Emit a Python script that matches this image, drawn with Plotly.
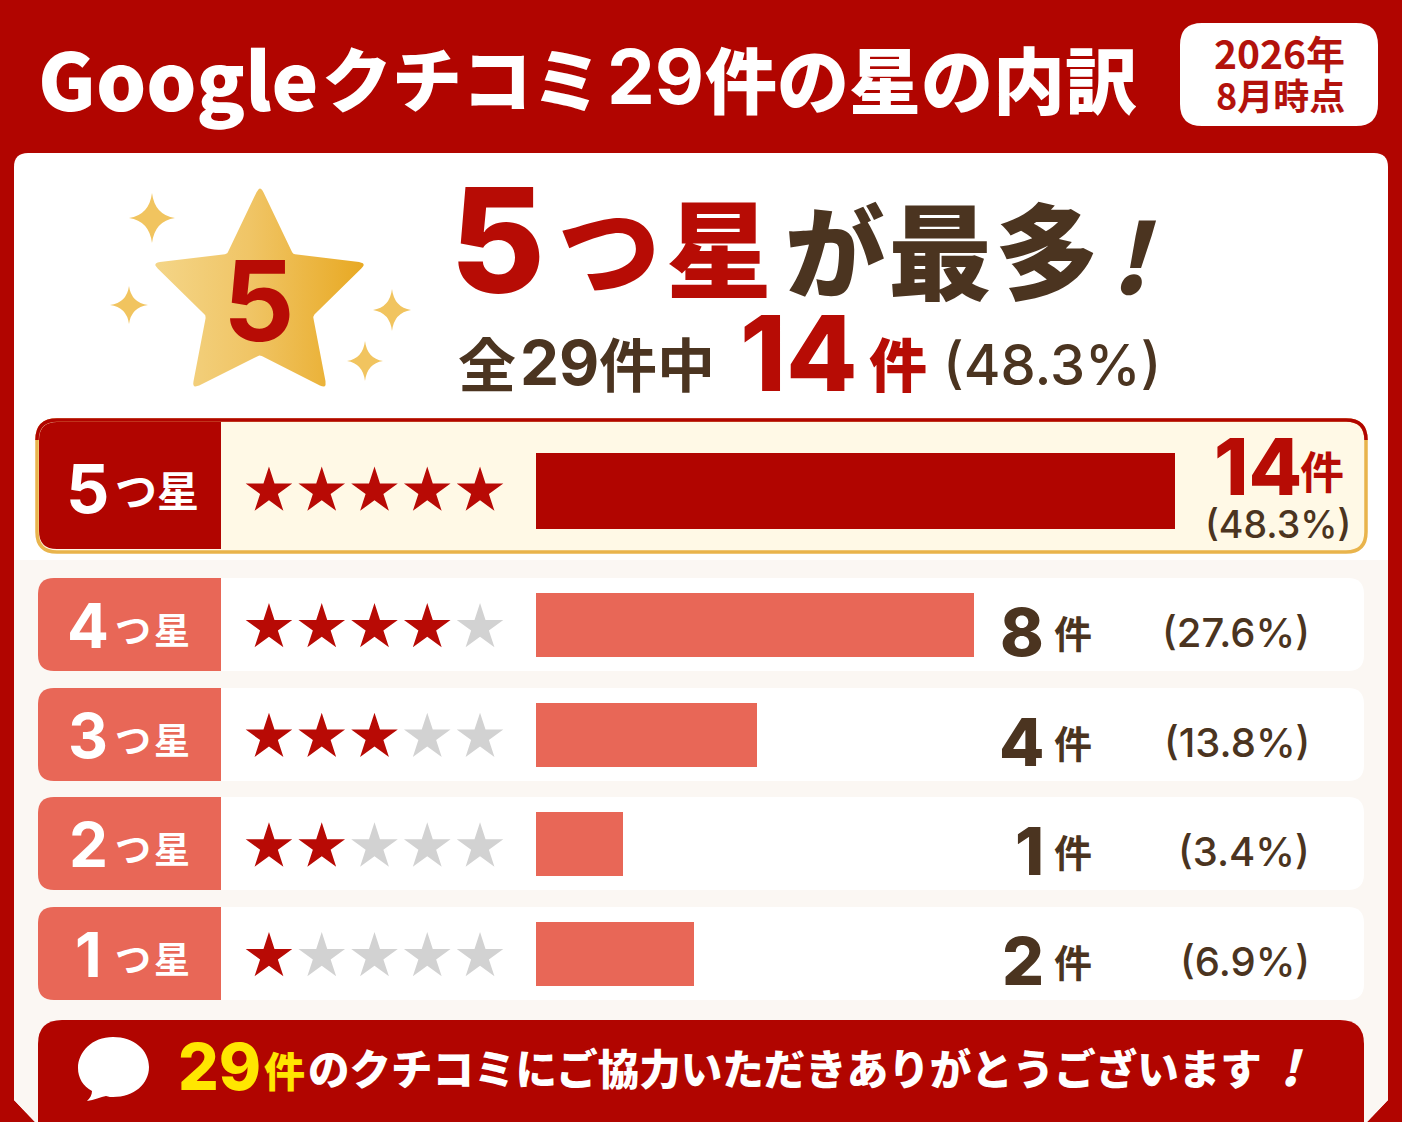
import plotly.graph_objects as go

# ---------- data ----------
row_labels = ["5つ星", "4つ星", "3つ星", "2つ星", "1つ星"]
star_counts = [5, 4, 3, 2, 1]
review_counts = [14, 8, 4, 1, 2]
percent_labels = ["(48.3%)", "(27.6%)", "(13.8%)", "(3.4%)", "(6.9%)"]
bar_lengths = [639, 438, 221, 87, 158]   # drawn length of each bar in the picture

title_parts = ["Google", "クチコミ", "29", "件の星の内訳"]
badge_lines = ["2026年", "8月時点"]
footer_text = "のクチコミにご協力いただきありがとうございます"

# ---------- style ----------
W, H = 1402, 1122
RED = "#B10500"
SALMON = "#E86757"
BROWN = "#4B3420"
GOLD = "#E9B44C"
CREAM = "#FFF9E6"
PANEL = "#FBF7F3"
GREY = "#D2D2D2"
FONT = "Noto Sans CJK JP"
NUM = "Inter, Noto Sans CJK JP"


def rrect(x0, y0, x1, y1, r, corners="tl tr br bl"):
    c = corners.split()
    p = f"M{x0 + (r if 'tl' in c else 0)},{y0} "
    p += f"L{x1 - r},{y0} Q{x1},{y0} {x1},{y0 + r} " if "tr" in c else f"L{x1},{y0} "
    p += f"L{x1},{y1 - r} Q{x1},{y1} {x1 - r},{y1} " if "br" in c else f"L{x1},{y1} "
    p += f"L{x0 + r},{y1} Q{x0},{y1} {x0},{y1 - r} " if "bl" in c else f"L{x0},{y1} "
    p += f"L{x0},{y0 + r} Q{x0},{y0} {x0 + r},{y0} Z" if "tl" in c else "Z"
    return p


shapes = []
def add(path, fill=None, line=None, lw=0):
    shapes.append(dict(type="path", path=path, xref="x", yref="y", layer="below",
                       fillcolor=fill or "rgba(0,0,0,0)",
                       line=dict(color=line or "rgba(0,0,0,0)", width=lw)))


annotations = []
def txt(x, y, s, size, color, anchor="left", weight=700, family=FONT):
    annotations.append(dict(x=x, y=y, xref="x", yref="y", text=s, showarrow=False,
                            xanchor=anchor, yanchor="middle", align=anchor,
                            font=dict(family=family, size=size, color=color, weight=weight)))


def sparkle(cx, cy, a, b):
    add(f"M{cx},{cy - b} Q{cx + a * .12},{cy - b * .12} {cx + a},{cy} "
        f"Q{cx + a * .12},{cy + b * .12} {cx},{cy + b} "
        f"Q{cx - a * .12},{cy + b * .12} {cx - a},{cy} "
        f"Q{cx - a * .12},{cy - b * .12} {cx},{cy - b} Z", fill="#F1C45F")


# main panel
add(f"M28,153 L1374,153 Q1388,153 1388,167 L1388,1100 L1367,1122 L35,1122 L14,1100 L14,167 Q14,153 28,153 Z",
    fill="#FFFFFF")
add("M14,560 L1388,560 L1388,1100 L1367,1122 L35,1122 L14,1100 Z", fill=PANEL)
add(rrect(1180, 23, 1378, 126, 22), fill="#FFFFFF")

# highlighted row
add(rrect(37, 420, 1366, 552, 20), fill=CREAM, line=GOLD, lw=3.5)
add("M37,440 Q37,420 57,420 L1346,420 Q1366,420 1366,440", line=RED, lw=3.5)
add(rrect(39, 422, 221, 549, 18, "tl bl"), fill=RED)

# other rows
for yc in (625, 735, 844, 954):
    add(rrect(38, yc - 47, 1364, yc + 46, 16), fill="#FFFFFF")
    add(rrect(38, yc - 47, 221, yc + 46, 16, "tl bl"), fill=SALMON)

# footer
add(rrect(38, 1020, 1364, 1150, 24), fill=RED)
add("M113,1037 C92,1037 78,1052 78,1068 C78,1078 83,1086 92,1091 C92,1095 90,1098 87,1101 "
    "C94,1100 101,1097 106,1096 C109,1097 111,1097 113,1097 C134,1097 149,1084 149,1067 "
    "C149,1050 134,1037 113,1037 Z", fill="#FFFFFF")

# sparkles
sparkle(152, 218, 23, 25)
sparkle(129, 305, 19, 19)
sparkle(392, 310, 19, 21)
sparkle(365, 361, 18, 20)

# ---------- big star outline, rounded corners ----------
star_v = [(260, 185), (293, 254), (367, 263), (313, 316), (327, 389),
          (260, 355), (192, 389), (206, 316), (152, 263), (227, 254)]
sx, sy = [], []
n = len(star_v)
for i, (vx, vy) in enumerate(star_v):
    px, py = star_v[i - 1]
    qx, qy = star_v[(i + 1) % n]
    rd = 8 if i % 2 == 0 else 2
    dp = ((px - vx) ** 2 + (py - vy) ** 2) ** .5
    dq = ((qx - vx) ** 2 + (qy - vy) ** 2) ** .5
    ax, ay = vx + (px - vx) * rd / dp, vy + (py - vy) * rd / dp
    bx, by = vx + (qx - vx) * rd / dq, vy + (qy - vy) * rd / dq
    for k in range(7):
        t = k / 6
        sx.append((1 - t) ** 2 * ax + 2 * t * (1 - t) * vx + t * t * bx)
        sy.append((1 - t) ** 2 * ay + 2 * t * (1 - t) * vy + t * t * by)
sx.append(sx[0]); sy.append(sy[0])

fig = go.Figure()
fig.add_trace(go.Scatter(
    x=sx, y=sy, mode="lines", fill="toself", line=dict(width=0),
    fillgradient=dict(type="horizontal",
                      colorscale=[[0, "#F4D587"], [0.45, "#F0C566"], [1, "#E8A923"]]),
    hoverinfo="skip", showlegend=False, xaxis="x", yaxis="y"))

# ---------- bars ----------
fig.add_trace(go.Bar(y=row_labels[:1], x=bar_lengths[:1], orientation="h", width=1,
                     marker=dict(color=RED, line_width=0), xaxis="x2", yaxis="y2",
                     hoverinfo="skip", showlegend=False))
fig.add_trace(go.Bar(y=row_labels[1:], x=bar_lengths[1:], orientation="h", width=0.584,
                     marker=dict(color=SALMON, line_width=0), xaxis="x2", yaxis="y3",
                     hoverinfo="skip", showlegend=False))

# ---------- star ratings ----------
for i, (label, cnt) in enumerate(zip(row_labels, star_counts)):
    fig.add_trace(go.Scatter(
        x=[1, 2, 3, 4, 5], y=[label] * 5, mode="markers",
        marker=dict(symbol="star", size=35, line_width=0,
                    color=["#B80A05" if s <= cnt else GREY for s in range(1, 6)]),
        xaxis="x3", yaxis="y2" if i == 0 else "y4", hoverinfo="skip", showlegend=False))

# ---------- texts ----------
txt(36, 76, title_parts[0], 79, "#FFFFFF", weight=800)
txt(320, 76, title_parts[1], 70, "#FFFFFF", weight=800)
txt(605, 76, title_parts[2], 76, "#FFFFFF", weight=700, family=NUM)
txt(703, 76, title_parts[3], 72, "#FFFFFF", weight=800)
txt(1279, 52, badge_lines[0], 39, "#B3120C", "center")
txt(1280, 94, badge_lines[1], 36, "#B3120C", "center")

txt(448, 240, "5", 146, "#B70C05", weight=800, family=NUM)
txt(556, 244, "つ", 102, "#B70C05", weight=900)
txt(664, 244, "星", 106, "#B70C05", weight=900)
txt(783, 246, "が", 100, BROWN, weight=900)
txt(886, 246, "最", 104, BROWN, weight=900)
txt(993, 246, "多", 104, BROWN, weight=900)
txt(1108, 252, "<i>!</i>", 96, BROWN, weight=900)

txt(259, 300, "5", 112, "#B70C05", "center", 700, NUM)

txt(456, 362, "全", 58, BROWN)
txt(518, 362, "29", 62, BROWN, family=NUM)
txt(597, 362, "件中", 58, BROWN)
txt(738, 353, str(review_counts[0]), 104, "#B70C05", weight=800, family=NUM)
txt(867, 362, "件", 58, "#B70C05", weight=900)
txt(941, 365, percent_labels[0], 56, BROWN, weight=500, family=NUM)

# highlighted row
txt(64, 488, row_labels[0][0], 68, "#FFFFFF", family=NUM)
txt(113, 488, row_labels[0][1], 42, "#FFFFFF")
txt(155, 488, row_labels[0][2], 42, "#FFFFFF")
txt(1212, 466, str(review_counts[0]), 78, "#B70C05", weight=800, family=NUM)
txt(1298, 470, "件", 44, "#B70C05")
txt(1278, 524, percent_labels[0], 37.5, BROWN, "center", 500, NUM)

# other rows
for yc, label, cnt, pct in zip((625, 735, 844, 954), row_labels[1:], review_counts[1:], percent_labels[1:]):
    txt(88, yc, label[0], 62, "#FFFFFF", "center", family=NUM)
    txt(113, yc + 3, label[1], 36, "#FFFFFF")
    txt(152, yc + 3, label[2], 36, "#FFFFFF")
    txt(1046, yc + 7, str(cnt), 66, BROWN, "right", 800, NUM)
    txt(1052, yc + 6, "件", 38, BROWN, weight=700)
    txt(1312, yc + 7, pct, 40, BROWN, "right", 500, NUM)

# footer
txt(176, 1066, "29", 64, "#FFE600", weight=800, family=NUM)
txt(262, 1069, "件", 41, "#FFE600", weight=900)
txt(306, 1067, footer_text, 41.5, "#FFFFFF", weight=900)
txt(1278, 1065, "<i>!</i>", 48, "#FFFFFF", weight=900)

# ---------- layout ----------
hidden = dict(visible=False, fixedrange=True)
row_top = 625 - 0.5 * 109.67
row_bot = row_top + 4 * 109.67
star_nudge = 2.5
fig.update_layout(
    width=W, height=H, margin=dict(l=0, r=0, t=0, b=0), autosize=False,
    paper_bgcolor=RED, plot_bgcolor="rgba(0,0,0,0)", showlegend=False,
    barmode="overlay", bargap=0,
    shapes=shapes, annotations=annotations,
    font=dict(family=FONT),
    xaxis=dict(range=[0, W], domain=[0, 1], **hidden),
    yaxis=dict(range=[H, 0], domain=[0, 1], **hidden),
    xaxis2=dict(range=[0, W - 536], domain=[536 / W, 1], anchor="y2", **hidden),
    yaxis2=dict(type="category", categoryorder="array", categoryarray=row_labels[:1],
                range=[-0.5, 0.5], domain=[(H - 529) / H, (H - 453) / H], anchor="x2", **hidden),
    yaxis3=dict(type="category", categoryorder="array", categoryarray=row_labels[1:],
                range=[3.5, -0.5], domain=[(H - row_bot) / H, (H - row_top) / H], anchor="x2", **hidden),
    yaxis4=dict(type="category", categoryorder="array", categoryarray=row_labels[1:],
                range=[3.5, -0.5], domain=[(H - row_bot - star_nudge) / H, (H - row_top - star_nudge) / H],
                anchor="x3", **hidden),
    xaxis3=dict(range=[0.5, 5.5], domain=[(269 - 26.4) / W, (480 + 26.4) / W], anchor="y2", **hidden),
)
fig.write_html("out.html", config=dict(displayModeBar=False, staticPlot=True),
               post_script="document.body.style.margin='0';document.body.style.overflow='hidden';")
